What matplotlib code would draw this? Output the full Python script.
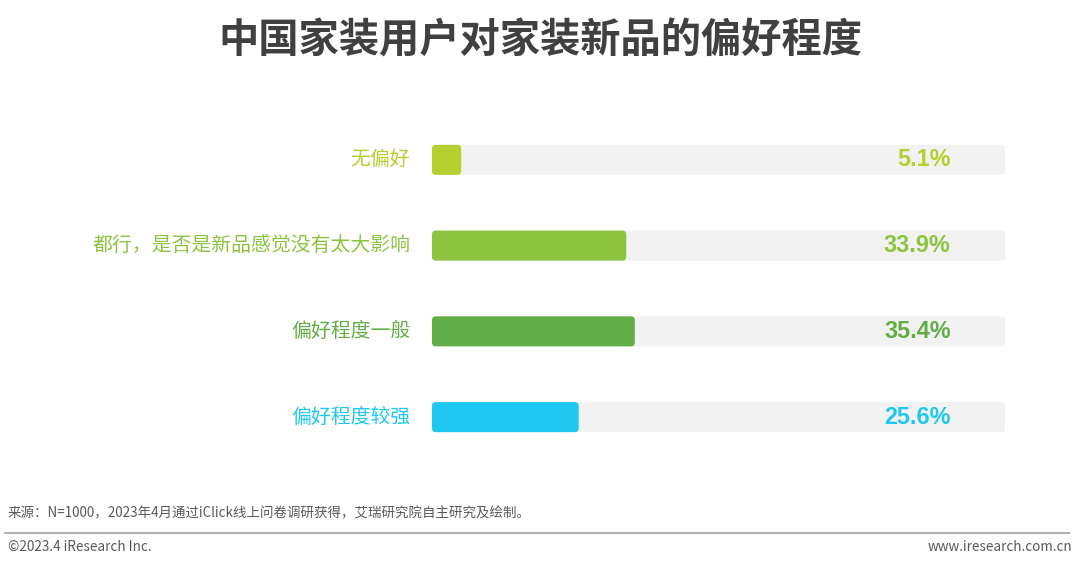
import matplotlib
matplotlib.use('Agg')
import matplotlib.pyplot as plt
from matplotlib.lines import Line2D
from matplotlib.patches import FancyBboxPatch

plt.rcParams['font.family'] = ['Noto Sans CJK SC', 'DejaVu Sans']

# data
categories = ['无偏好', '都行，是否是新品感觉没有太大影响', '偏好程度一般', '偏好程度较强']
values = [5.1, 33.9, 35.4, 25.6]
value_labels = ['5.1%', '33.9%', '35.4%', '25.6%']
colors = ['#b5cf2e', '#8cc43f', '#62ad45', '#1ec8f0']

title = '中国家装用户对家装新品的偏好程度'
source = '来源：N=1000，2023年4月通过iClick线上问卷调研获得，艾瑞研究院自主研究及绘制。'
copyright_txt = '©2023.4 iResearch Inc.'
website = 'www.iresearch.com.cn'

fig = plt.figure(figsize=(10.8, 5.67), dpi=100)
ax = fig.add_axes([0.4, 0.1887, 0.5306, 0.605])

ypos = list(range(len(categories)))
tracks = ax.barh(ypos, [100] * len(values), height=0.35, color='#f2f2f2', zorder=1)
bars = ax.barh(ypos, values, height=0.35, color=colors, zorder=2)

# swap plain rectangles for slightly rounded ones
aspect = (0.5306 * 1080 / 100) / (0.605 * 567 / 4)
for group, rad in ((tracks, 0.5), (bars, 0.7)):
    for p in group:
        rp = FancyBboxPatch((p.get_x(), p.get_y()), p.get_width(), p.get_height(),
                            boxstyle='round,pad=0,rounding_size=%s' % rad,
                            mutation_aspect=aspect, facecolor=p.get_facecolor(),
                            edgecolor='none', zorder=p.get_zorder())
        p.set_visible(False)
        ax.add_patch(rp)

for y, lab, txt, c in zip(ypos, categories, value_labels, colors):
    ax.text(-3.8, y, lab, ha='right', va='center', fontsize=14.3, color=c)
    ax.text(90.5, y, txt, ha='right', va='center', fontsize=16.8, color=c,
            fontweight='bold', family=['Liberation Sans', 'DejaVu Sans'])

ax.set_xlim(0, 100)
ax.set_ylim(3.5, -0.5)
ax.axis('off')

fig.text(0.5, 0.927, title, ha='center', va='center', fontsize=29,
         fontweight='bold', color='#404040')
fig.text(0.007, 0.095, source, ha='left', va='center', fontsize=9.7, color='#595959')
fig.add_artist(Line2D([0.005, 0.99], [0.06, 0.06], color='#b0b0b0', lw=1.5,
                      transform=fig.transFigure))
fig.text(0.007, 0.035, copyright_txt, ha='left', va='center', fontsize=9.8, color='#595959')
fig.text(0.993, 0.035, website, ha='right', va='center', fontsize=9.7, color='#595959')

fig.savefig('out.png', dpi=100)
